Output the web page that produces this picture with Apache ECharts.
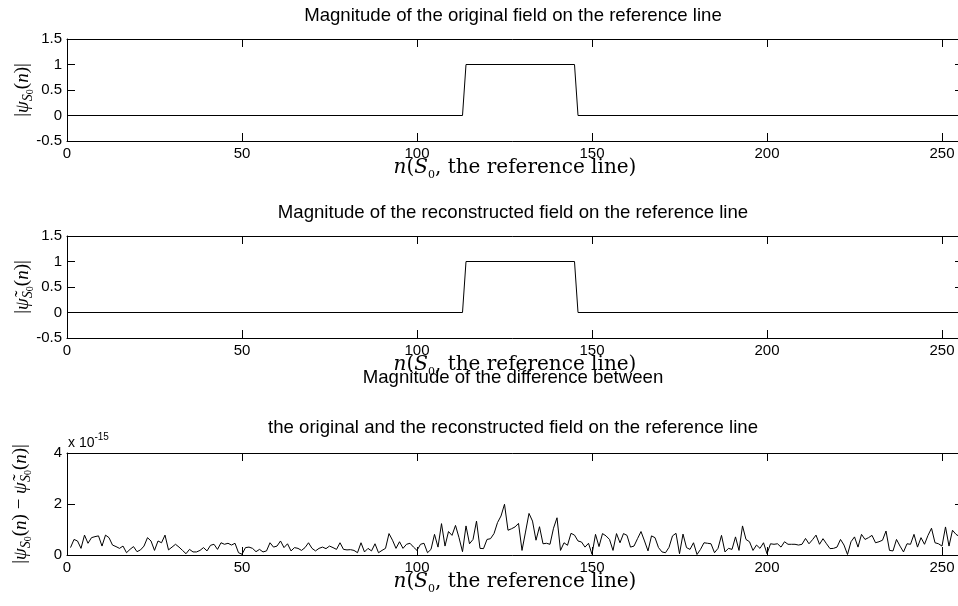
<!DOCTYPE html>
<html>
<head>
<meta charset="utf-8">
<title>Field magnitudes on the reference line</title>
<script src="https://cdn.jsdelivr.net/npm/echarts@6/dist/echarts.min.js"></script>
<style>
  html, body { margin: 0; padding: 0; background: #fff; }
  #chart { width: 958px; height: 606px; }
</style>
</head>
<body>
<div id="chart"></div>
<script>
// corner points of the rectangular pulse (n, |psi|)
var originalPulse = [[1, 0], [113, 0], [114, 1], [145, 1], [146, 0], [256, 0]];
var reconPulse = [[1, 0], [113, 0], [114, 1], [145, 1], [146, 0], [256, 0]];

// difference magnitude, n = 1..256, in units of 1e-15
var diffVals = [
	0.29, 0.61, 0.55, 0.26, 0.78, 0.46, 0.68, 0.72, 0.75, 0.35,
	0.78, 0.68, 0.39, 0.33, 0.26, 0.35, 0.09, 0.22, 0.33, 0.13,
	0.20, 0.35, 0.68, 0.55, 0.18, 0.55, 0.48, 0.78, 0.20, 0.31,
	0.42, 0.31, 0.18, 0.05, 0.22, 0.12, 0.12, 0.18, 0.29, 0.16,
	0.38, 0.42, 0.22, 0.48, 0.42, 0.46, 0.39, 0.46, 0.09, 0.03,
	0.29, 0.31, 0.26, 0.13, 0.22, 0.12, 0.16, 0.48, 0.31, 0.35,
	0.55, 0.29, 0.44, 0.16, 0.29, 0.26, 0.18, 0.29, 0.48, 0.26,
	0.16, 0.26, 0.31, 0.25, 0.35, 0.29, 0.22, 0.48, 0.22, 0.20,
	0.21, 0.18, 0.09, 0.48, 0.12, 0.26, 0.16, 0.44, 0.09, 0.18,
	0.26, 0.84, 0.58, 0.26, 0.52, 0.26, 0.42, 0.46, 0.31, 0.18,
	0.42, 0.46, 0.09, 0.22, 0.81, 0.31, 1.23, 0.35, 0.92, 0.77,
	1.16, 0.68, 0.13, 1.14, 0.44, 0.61, 1.33, 0.26, 0.25, 0.61,
	0.64, 0.84, 1.27, 1.53, 1.99, 0.97, 1.03, 1.10, 1.24, 0.18,
	0.90, 1.63, 1.33, 0.58, 1.11, 0.44, 0.46, 0.42, 1.05, 1.46,
	0.18, 0.48, 0.38, 0.85, 0.78, 0.55, 0.51, 0.31, 0.46, 0.03,
	0.81, 0.33, 0.84, 0.75, 0.61, 0.18, 0.84, 0.48, 0.84, 0.77,
	0.31, 0.35, 0.64, 0.92, 0.55, 0.16, 0.75, 0.68, 0.29, 0.12,
	0.09, 0.30, 0.75, 0.85, 0.05, 0.82, 0.29, 0.22, 0.48, 0.02,
	0.22, 0.48, 0.46, 0.44, 0.09, 0.26, 0.77, 0.12, 0.26, 0.22,
	0.71, 0.18, 1.14, 0.61, 0.52, 0.18, 0.39, 0.26, 0.48, 0.05,
	0.44, 0.42, 0.44, 0.31, 0.52, 0.42, 0.42, 0.42, 0.39, 0.42,
	0.65, 0.44, 0.60, 0.78, 0.42, 0.64, 0.44, 0.25, 0.26, 0.31,
	0.61, 0.39, 0.02, 0.52, 0.71, 0.31, 0.81, 0.61, 0.68, 0.77,
	0.48, 0.52, 0.58, 0.94, 0.18, 0.16, 0.61, 0.35, 0.12, 0.44,
	0.42, 0.81, 0.31, 0.68, 0.42, 0.77, 1.05, 0.48, 0.44, 0.35,
	1.10, 0.35, 0.97, 0.81, 0.72, 0.95
];

var titles = [
	'Magnitude of the original field on the reference line',
	'Magnitude of the reconstructed field on the reference line',
	'Magnitude of the difference between',
	'the original and the reconstructed field on the reference line'
];
var titleCenters = [16, 213, 378, 428];

var sansFont = '"Liberation Sans", Arial, Helvetica, sans-serif';
var serifFont = '"Liberation Serif", serif';
var wideSerif = '"DejaVu Serif", "Liberation Serif", serif';

var chart = echarts.init(document.getElementById('chart'));

function mathStyles(font, size) {
	return {
		i: { fontFamily: font, fontStyle: 'italic', fontSize: size, lineHeight: size + 6, color: '#000' },
		r: { fontFamily: font, fontSize: size, lineHeight: size + 6, color: '#000' },
		s: { fontFamily: font, fontStyle: 'italic', fontSize: Math.round(size * 0.72), lineHeight: size + 6, verticalAlign: 'bottom', color: '#000' },
		ss: { fontFamily: font, fontSize: Math.round(size * 0.55), lineHeight: size + 6, verticalAlign: 'bottom', color: '#000' }
	};
}
var xRich = mathStyles(wideSerif, 20);
var yRich = mathStyles(serifFont, 19);

var xName = '{i|n}{r|(}{i|S}{ss|0}{r|, the reference line)}';
var yName1 = '{r||}{i|ψ}{s|S}{ss|0}{r|(}{i|n}{r|)|}';
var yName2 = '{r||}{i|ψ̃}{s|S}{ss|0}{r|(}{i|n}{r|)|}';
var yName3 = '{r||}{i|ψ}{s|S}{ss|0}{r|(}{i|n}{r|) − }{i|ψ̃}{s|S}{ss|0}{r|(}{i|n}{r|)|}';

var gridTops = [39, 236, 453];

function bottomAxis(idx) {
	return {
		type: 'value', gridIndex: idx, position: 'bottom',
		min: 0, max: 256, interval: 50,
		axisLine: { onZero: false, lineStyle: { color: '#000', width: 1 } },
		axisTick: { inside: true, length: 8, lineStyle: { color: '#000' } },
		axisLabel: { color: '#000', fontFamily: sansFont, fontSize: 15, margin: 5, showMaxLabel: false },
		splitLine: { show: false },
		name: xName, nameLocation: 'middle', nameGap: 14, nameMoveOverlap: false,
		nameTextStyle: { rich: xRich }
	};
}
function topAxis(idx) {
	return {
		type: 'value', gridIndex: idx, position: 'top',
		min: 0, max: 256, interval: 50,
		axisLine: { onZero: false, lineStyle: { color: '#000', width: 1 } },
		axisTick: { inside: true, length: 8, lineStyle: { color: '#000' } },
		axisLabel: { show: false },
		splitLine: { show: false }
	};
}
function leftAxis(idx, mn, mx, step, nm, gap) {
	return {
		type: 'value', gridIndex: idx, position: 'left',
		min: mn, max: mx, interval: step,
		axisLine: { show: true, onZero: false, lineStyle: { color: '#000', width: 1 } },
		axisTick: { show: true, inside: true, length: 8, lineStyle: { color: '#000' } },
		axisLabel: { color: '#000', fontFamily: sansFont, fontSize: 15, margin: 5 },
		splitLine: { show: false },
		name: nm, nameLocation: 'middle', nameRotate: 90, nameGap: gap, nameMoveOverlap: false,
		nameTextStyle: { rich: yRich }
	};
}
function rightAxis(idx, mn, mx, step) {
	return {
		type: 'value', gridIndex: idx, position: 'right',
		min: mn, max: mx, interval: step,
		axisLine: { show: true, onZero: false, lineStyle: { color: '#000', width: 1 } },
		axisTick: { show: true, inside: true, length: 8, lineStyle: { color: '#000' } },
		axisLabel: { show: false },
		splitLine: { show: false }
	};
}

var lineBase = {
	type: 'line', showSymbol: false, symbol: 'none',
	lineStyle: { color: '#000', width: 1 }
};

var option = {
	backgroundColor: '#fff',
	animation: false,
	title: titles.map(function (txt, k) {
		return {
			text: txt, left: 513, top: titleCenters[k] - 10, textAlign: 'center', padding: 0,
			textStyle: { color: '#000', fontFamily: sansFont, fontSize: 18.6, fontWeight: 'normal', lineHeight: 20 }
		};
	}),
	grid: gridTops.map(function (t) {
		return { left: 67, width: 896, top: t, height: 102, outerBoundsMode: 'none', containLabel: false };
	}),
	xAxis: [bottomAxis(0), topAxis(0), bottomAxis(1), topAxis(1), bottomAxis(2), topAxis(2)],
	yAxis: [
		leftAxis(0, -0.5, 1.5, 0.5, yName1, 32), rightAxis(0, -0.5, 1.5, 0.5),
		leftAxis(1, -0.5, 1.5, 0.5, yName2, 32), rightAxis(1, -0.5, 1.5, 0.5),
		leftAxis(2, 0, 4, 2, yName3, 34), rightAxis(2, 0, 4, 2)
	],
	graphic: [{
		type: 'text', left: 68, top: 432,
		style: {
			text: '{a|x 10}{b|-15}',
			rich: {
				a: { fontFamily: sansFont, fontSize: 14, lineHeight: 18, color: '#000', verticalAlign: 'bottom' },
				b: { fontFamily: sansFont, fontSize: 10, lineHeight: 18, color: '#000', verticalAlign: 'top' }
			}
		}
	}],
	series: [
		Object.assign({}, lineBase, { xAxisIndex: 0, yAxisIndex: 0, data: originalPulse }),
		Object.assign({}, lineBase, { xAxisIndex: 2, yAxisIndex: 2, data: reconPulse }),
		Object.assign({}, lineBase, {
			xAxisIndex: 4, yAxisIndex: 4,
			data: diffVals.map(function (v, i) { return [i + 1, v]; })
		})
	]
};

chart.setOption(option);
</script>
</body>
</html>
